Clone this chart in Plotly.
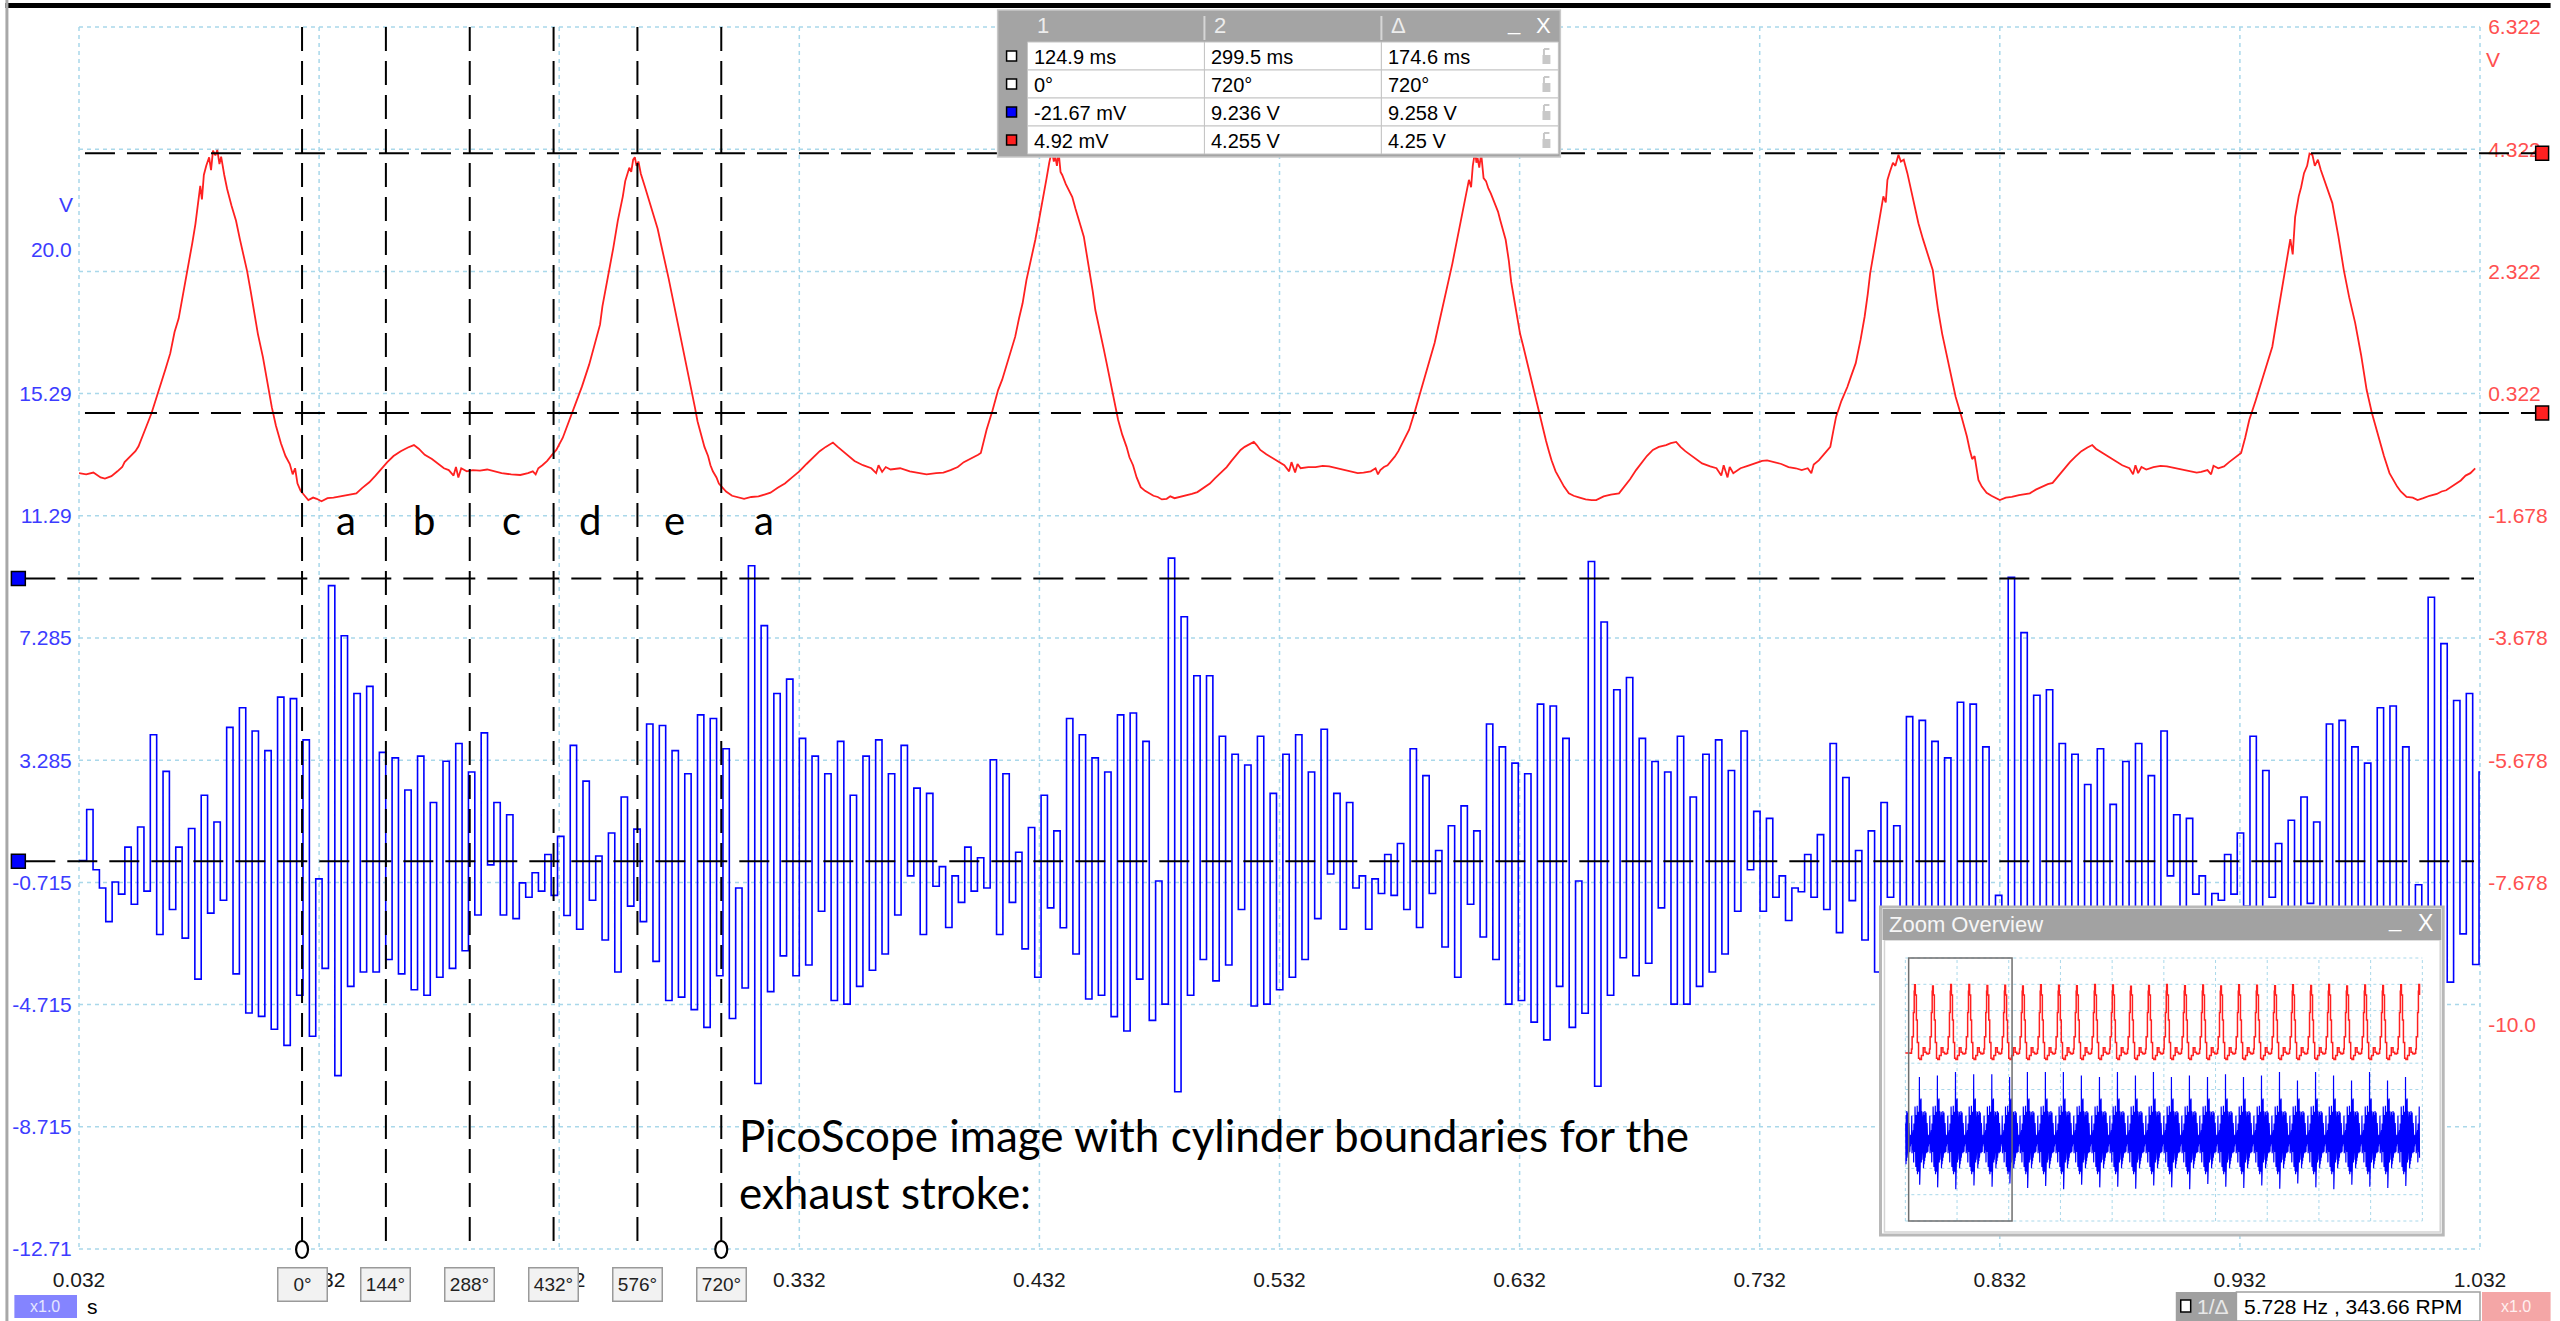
import plotly.graph_objects as go

# ============================ DATA ============================
X_RANGE = [0.032, 1.032]
X_TICK_VALS = [0.032, 0.132, 0.232, 0.332, 0.432, 0.532, 0.632, 0.732, 0.832, 0.932, 1.032]
X_TICK_TEXT = ["0.032", "0.132", "0.232", "0.332", "0.432", "0.532", "0.632", "0.732", "0.832", "0.932", "1.032"]

BLUE_RANGE = [-12.715, 27.285]
BLUE_TICK_VALS = [20.0, 15.285, 11.285, 7.285, 3.285, -0.715, -4.715, -8.715, -12.715]
BLUE_TICK_TEXT = ["20.0", "15.29", "11.29", "7.285", "3.285", "-0.715", "-4.715", "-8.715", "-12.71"]
BLUE_GRID_VALS = [27.285, 23.285, 19.285, 15.285, 11.285, 7.285, 3.285, -0.715, -4.715, -8.715, -12.715]

RED_RANGE = [-13.678, 6.322]
RED_TICK_VALS = [6.322, 4.322, 2.322, 0.322, -1.678, -3.678, -5.678, -7.678, -10.0]
RED_TICK_TEXT = ["6.322", "4.322", "2.322", "0.322", "-1.678", "-3.678", "-5.678", "-7.678", "-10.0"]

# red channel (time s, volts)
RED_SAMPLES = [
 (0.0320,-0.98),(0.0350,-1.00),(0.0380,-0.97),(0.0410,-1.05),(0.0428,-1.07),(0.0455,-1.03),(0.0480,-0.95),
 (0.0500,-0.88),(0.0510,-0.80),(0.0525,-0.74),(0.0540,-0.68),(0.0555,-0.62),(0.0568,-0.54),(0.0585,-0.38),
 (0.0600,-0.22),(0.0622,0.00),(0.0640,0.22),(0.0660,0.45),(0.0680,0.72),(0.0700,0.98),(0.0718,1.33),
 (0.0735,1.55),(0.0755,1.97),(0.0770,2.30),(0.0782,2.55),(0.0792,2.79),(0.0805,3.10),(0.0815,3.45),
 (0.0825,3.72),(0.0832,3.50),(0.0840,3.90),(0.0850,4.05),(0.0862,4.19),(0.0870,3.98),(0.0878,4.30),
 (0.0888,4.22),(0.0896,4.31),(0.0905,4.08),(0.0912,4.20),(0.0925,3.90),(0.0937,3.67),(0.0955,3.40),
 (0.0974,3.15),(0.0990,2.85),(0.1005,2.60),(0.1020,2.33),(0.1035,2.00),(0.1049,1.67),(0.1065,1.30),
 (0.1086,0.92),(0.1105,0.50),(0.1123,0.10),(0.1140,-0.20),(0.1161,-0.49),(0.1180,-0.70),(0.1198,-0.83),
 (0.1210,-1.00),(0.1220,-0.90),(0.1230,-1.15),(0.1243,-1.27),(0.1260,-1.35),(0.1275,-1.42),(0.1295,-1.38),
 (0.1310,-1.40),(0.1330,-1.44),(0.1355,-1.39),(0.1380,-1.38),(0.1410,-1.36),(0.1440,-1.33),(0.1475,-1.31),
 (0.1500,-1.22),(0.1529,-1.13),(0.1555,-1.02),(0.1580,-0.90),(0.1604,-0.80),(0.1630,-0.70),(0.1660,-0.62),
 (0.1690,-0.56),(0.1715,-0.52),(0.1735,-0.58),(0.1760,-0.68),(0.1790,-0.75),(0.1815,-0.83),(0.1840,-0.90),
 (0.1860,-0.93),(0.1880,-1.02),(0.1890,-0.88),(0.1900,-1.05),(0.1912,-0.90),(0.1935,-0.95),(0.1960,-0.93),
 (0.1990,-0.94),(0.2020,-0.92),(0.2047,-0.95),(0.2080,-0.98),(0.2120,-1.00),(0.2158,-1.01),(0.2190,-0.98),
 (0.2210,-0.95),(0.2222,-1.00),(0.2233,-0.90),(0.2250,-0.85),(0.2270,-0.78),(0.2290,-0.68),(0.2308,-0.60),
 (0.2335,-0.40),(0.2361,-0.13),(0.2390,0.15),(0.2415,0.44),(0.2445,0.80),(0.2473,1.21),(0.2490,1.45),
 (0.2500,1.75),(0.2515,2.05),(0.2527,2.33),(0.2545,2.70),(0.2564,3.15),(0.2575,3.35),(0.2585,3.55),
 (0.2595,3.80),(0.2602,3.90),(0.2612,4.02),(0.2620,3.95),(0.2628,4.15),(0.2635,4.19),(0.2642,4.05),
 (0.2650,4.12),(0.2660,3.92),(0.2676,3.72),(0.2700,3.40),(0.2715,3.20),(0.2730,3.02),(0.2745,2.75),
 (0.2760,2.50),(0.2775,2.22),(0.2788,1.97),(0.2805,1.65),(0.2815,1.45),(0.2830,1.15),(0.2842,0.92),
 (0.2856,0.65),(0.2870,0.40),(0.2885,0.10),(0.2896,-0.13),(0.2910,-0.33),(0.2925,-0.55),(0.2940,-0.70),
 (0.2950,-0.85),(0.2960,-0.95),(0.2975,-1.05),(0.2985,-1.15),(0.2995,-1.20),(0.3015,-1.28),(0.3040,-1.35),
 (0.3065,-1.38),(0.3090,-1.40),(0.3120,-1.37),(0.3150,-1.36),(0.3175,-1.33),(0.3200,-1.30),(0.3230,-1.22),
 (0.3260,-1.15),(0.3290,-1.05),(0.3320,-0.95),(0.3350,-0.83),(0.3380,-0.72),(0.3405,-0.62),(0.3430,-0.55),
 (0.3450,-0.50),(0.3460,-0.48),(0.3480,-0.55),(0.3500,-0.62),(0.3525,-0.70),(0.3550,-0.78),(0.3585,-0.85),
 (0.3620,-0.90),(0.3640,-0.98),(0.3650,-0.85),(0.3665,-0.96),(0.3680,-0.88),(0.3700,-0.92),(0.3740,-0.90),
 (0.3780,-0.95),(0.3815,-0.97),(0.3850,-1.00),(0.3890,-0.98),(0.3920,-0.97),(0.3950,-0.93),(0.3980,-0.88),
 (0.4005,-0.80),(0.4030,-0.75),(0.4050,-0.72),(0.4065,-0.68),(0.4076,-0.65),(0.4088,-0.45),(0.4100,-0.27),
 (0.4125,0.05),(0.4148,0.38),(0.4165,0.55),(0.4180,0.75),(0.4200,1.00),(0.4219,1.25),(0.4235,1.55),
 (0.4250,1.80),(0.4266,2.18),(0.4285,2.50),(0.4303,2.84),(0.4320,3.20),(0.4337,3.54),(0.4345,3.70),
 (0.4350,3.85),(0.4361,4.10),(0.4372,4.30),(0.4380,4.12),(0.4386,4.20),(0.4393,4.05),(0.4400,4.28),
 (0.4408,3.95),(0.4415,3.90),(0.4430,3.75),(0.4445,3.62),(0.4457,3.54),(0.4470,3.35),(0.4480,3.20),
 (0.4493,3.05),(0.4505,2.89),(0.4518,2.60),(0.4530,2.30),(0.4542,2.00),(0.4553,1.69),(0.4565,1.45),
 (0.4575,1.25),(0.4588,1.05),(0.4600,0.82),(0.4612,0.58),(0.4625,0.35),(0.4637,0.12),(0.4648,-0.11),
 (0.4665,-0.35),(0.4683,-0.55),(0.4695,-0.72),(0.4710,-0.85),(0.4725,-1.05),(0.4742,-1.21),(0.4760,-1.27),
 (0.4780,-1.32),(0.4795,-1.35),(0.4813,-1.37),(0.4830,-1.41),(0.4850,-1.40),(0.4865,-1.36),(0.4883,-1.39),
 (0.4905,-1.37),(0.4930,-1.35),(0.4955,-1.32),(0.4978,-1.29),(0.5005,-1.22),(0.5030,-1.15),(0.5052,-1.06),
 (0.5074,-0.98),(0.5100,-0.88),(0.5120,-0.78),(0.5140,-0.68),(0.5158,-0.60),(0.5175,-0.55),(0.5190,-0.52),
 (0.5213,-0.47),(0.5225,-0.52),(0.5240,-0.60),(0.5265,-0.67),(0.5289,-0.73),(0.5315,-0.80),(0.5340,-0.85),
 (0.5360,-0.95),(0.5370,-0.80),(0.5385,-0.97),(0.5395,-0.83),(0.5408,-0.90),(0.5440,-0.88),(0.5470,-0.88),
 (0.5500,-0.86),(0.5527,-0.87),(0.5560,-0.90),(0.5590,-0.93),(0.5620,-0.96),(0.5646,-0.98),(0.5670,-0.97),
 (0.5700,-0.95),(0.5720,-0.90),(0.5730,-1.00),(0.5740,-0.93),(0.5755,-0.88),(0.5770,-0.85),(0.5785,-0.78),
 (0.5800,-0.71),(0.5815,-0.62),(0.5830,-0.50),(0.5845,-0.38),(0.5860,-0.27),(0.5885,0.05),(0.5906,0.33),
 (0.5920,0.52),(0.5935,0.72),(0.5950,0.92),(0.5966,1.15),(0.5980,1.40),(0.5995,1.65),(0.6010,1.90),
 (0.6026,2.18),(0.6040,2.45),(0.6050,2.65),(0.6062,2.88),(0.6074,3.11),(0.6085,3.30),(0.6090,3.45),
 (0.6100,3.62),(0.6109,3.82),(0.6118,3.70),(0.6125,4.05),(0.6135,4.30),(0.6140,4.10),(0.6145,4.18),
 (0.6152,4.02),(0.6160,4.25),(0.6170,3.85),(0.6180,3.80),(0.6190,3.68),(0.6200,3.60),(0.6217,3.44),
 (0.6230,3.30),(0.6240,3.15),(0.6250,3.00),(0.6262,2.84),(0.6275,2.50),(0.6285,2.15),(0.6298,1.85),
 (0.6311,1.52),(0.6322,1.30),(0.6335,1.10),(0.6347,0.90),(0.6358,0.71),(0.6370,0.50),(0.6383,0.30),
 (0.6395,0.10),(0.6407,-0.11),(0.6418,-0.30),(0.6430,-0.45),(0.6442,-0.62),(0.6453,-0.77),(0.6470,-0.95),
 (0.6490,-1.10),(0.6505,-1.20),(0.6525,-1.31),(0.6545,-1.35),(0.6570,-1.38),(0.6595,-1.41),(0.6620,-1.42),
 (0.6639,-1.42),(0.6670,-1.36),(0.6700,-1.33),(0.6734,-1.31),(0.6760,-1.18),(0.6780,-1.08),(0.6805,-0.93),
 (0.6825,-0.82),(0.6850,-0.70),(0.6875,-0.60),(0.6900,-0.55),(0.6930,-0.52),(0.6950,-0.49),(0.6972,-0.47),
 (0.6990,-0.55),(0.7010,-0.62),(0.7031,-0.68),(0.7055,-0.76),(0.7080,-0.82),(0.7114,-0.87),(0.7140,-0.90),
 (0.7160,-1.02),(0.7170,-0.85),(0.7186,-1.05),(0.7195,-0.88),(0.7210,-0.98),(0.7240,-0.90),(0.7270,-0.86),
 (0.7300,-0.82),(0.7330,-0.78),(0.7351,-0.77),(0.7380,-0.80),(0.7410,-0.83),(0.7440,-0.88),(0.7470,-0.90),
 (0.7495,-0.93),(0.7520,-0.90),(0.7535,-0.98),(0.7545,-0.84),(0.7566,-0.77),(0.7590,-0.66),(0.7614,-0.55),
 (0.7626,-0.30),(0.7638,-0.06),(0.7660,0.20),(0.7685,0.43),(0.7700,0.60),(0.7720,0.82),(0.7740,1.20),
 (0.7757,1.58),(0.7770,1.95),(0.7780,2.29),(0.7798,2.70),(0.7815,3.11),(0.7825,3.30),(0.7835,3.55),
 (0.7845,3.45),(0.7852,3.82),(0.7862,3.95),(0.7875,4.10),(0.7885,4.05),(0.7898,4.23),(0.7908,4.12),
 (0.7920,4.15),(0.7935,3.93),(0.7950,3.65),(0.7965,3.40),(0.7981,3.11),(0.8000,2.85),(0.8020,2.60),
 (0.8041,2.34),(0.8052,2.00),(0.8063,1.69),(0.8080,1.30),(0.8101,0.93),(0.8118,0.60),(0.8136,0.27),
 (0.8160,-0.05),(0.8183,-0.38),(0.8195,-0.60),(0.8205,-0.75),(0.8215,-0.70),(0.8231,-1.09),(0.8245,-1.20),
 (0.8265,-1.30),(0.8285,-1.35),(0.8302,-1.39),(0.8320,-1.42),(0.8345,-1.38),(0.8370,-1.37),(0.8400,-1.34),
 (0.8420,-1.33),(0.8445,-1.31),(0.8470,-1.25),(0.8500,-1.20),(0.8520,-1.16),(0.8540,-1.14),(0.8565,-1.02),
 (0.8590,-0.90),(0.8612,-0.80),(0.8635,-0.71),(0.8660,-0.62),(0.8685,-0.56),(0.8705,-0.52),(0.8720,-0.58),
 (0.8740,-0.63),(0.8760,-0.68),(0.8778,-0.73),(0.8800,-0.78),(0.8830,-0.85),(0.8860,-0.90),(0.8875,-1.00),
 (0.8885,-0.85),(0.8896,-0.98),(0.8910,-0.88),(0.8930,-0.92),(0.8960,-0.88),(0.8990,-0.86),(0.9016,-0.87),
 (0.9050,-0.90),(0.9080,-0.92),(0.9110,-0.95),(0.9140,-0.97),(0.9159,-0.96),(0.9185,-0.93),(0.9200,-1.00),
 (0.9210,-0.86),(0.9230,-0.90),(0.9254,-0.87),(0.9275,-0.80),(0.9300,-0.72),(0.9325,-0.65),(0.9342,-0.40),
 (0.9359,-0.11),(0.9385,0.20),(0.9408,0.49),(0.9430,0.78),(0.9455,1.09),(0.9468,1.40),(0.9480,1.69),
 (0.9498,2.10),(0.9515,2.56),(0.9530,2.85),(0.9540,2.60),(0.9550,3.21),(0.9565,3.55),(0.9575,3.70),
 (0.9587,3.93),(0.9600,4.05),(0.9610,4.25),(0.9622,4.23),(0.9632,4.05),(0.9645,4.15),(0.9657,3.98),
 (0.9680,3.72),(0.9705,3.44),(0.9730,2.90),(0.9753,2.34),(0.9775,1.90),(0.9800,1.48),(0.9825,0.95),
 (0.9848,0.38),(0.9870,0.00),(0.9896,-0.38),(0.9920,-0.70),(0.9943,-0.98),(0.9960,-1.10),(0.9975,-1.20),
 (0.9990,-1.28),(1.0014,-1.37),(1.0040,-1.38),(1.0060,-1.42),(1.0084,-1.39),(1.0110,-1.35),(1.0140,-1.32),
 (1.0160,-1.28),(1.0179,-1.26),(1.0210,-1.18),(1.0240,-1.10),(1.0260,-1.02),(1.0280,-0.98),(1.0300,-0.90),
]

# blue channel: sampled oscillation, one peak + one trough per period
BLUE_START_T, BLUE_START_V = 0.032, 0.0
BLUE_FIRST_PEAK_T = 0.0352
BLUE_PERIOD = 0.0053
BLUE_PEAK_V = [
 1.67, -0.9, -0.7, 0.44, 1.1, 4.12, 2.92, 0.44, 1.05, 2.14,
 1.26, 4.36, 5.0, 4.24, 3.6, 5.35, 5.3, 3.95, -0.6,
 9.0, 7.36, 5.47, 5.7, 3.54, 3.36, 2.31, 3.42, 1.9, 3.25,
 3.83, 2.9, 4.18, 1.9, 1.5, -0.73, -0.4, 0.2, 0.79, 3.77,
 2.6, 0.15, 0.9, 2.08, 1.03, 4.47, 4.42, 3.6, 2.84, 4.77,
 4.65, 3.66, -0.9, 9.65, 7.69, 5.47, 5.94, 4.0, 3.42, 2.84,
 3.9, 2.14, 3.42, 3.95, 2.84, 3.77, 2.37, 2.2, -0.2, -0.5,
 0.44, 0.09, 3.3, 2.84, 0.27, 1.08, 2.14, 0.97, 4.65, 4.12,
 3.36, 2.9, 4.77, 4.83, 3.9, -0.67, 9.9, 7.98, 6.05, 6.05,
 4.07, 3.48, 3.13, 4.07, 2.2, 3.48, 4.12, 2.9, 4.3, 2.2,
 1.9, -0.5, -0.6, 0.2, 0.56, 3.66, 2.78, 0.33, 1.14, 1.79,
 0.97, 4.47, 3.72, 3.19, 2.84, 5.12, 5.06, 4.0, -0.67, 9.79,
 7.81, 5.59, 5.99, 4.0, 3.24, 2.9, 4.07, 2.08, 3.48, 3.95,
 2.95, 4.24, 1.61, 1.38, -0.5, -0.9, 0.2, 0.85, 3.83, 2.72,
 0.33, 0.97, 1.9, 1.14, 4.71, 4.59, 3.9, 3.36, 5.18, 5.12,
 3.72, -1.14, 9.27, 7.46, 5.41, 5.59, 3.83, 3.48, 2.49, 3.66,
 1.84, 3.24, 3.83, 2.78, 4.24, 1.5, 1.38, -0.5, -1.08, 0.2,
 0.9, 4.07, 2.95, 0.56, 1.32, 2.08, 1.26, 4.47, 4.59, 3.72,
 3.19, 5.0, 5.06, 3.72, -0.79, 8.62, 7.1, 5.24, 5.47, 2.9,
]
BLUE_TROUGH_V = [
 -0.3, -2.0, -1.1, -1.43, -1.0, -2.42, -1.6, -2.54, -3.88, -1.72,
 -1.3, -3.71, -4.99, -5.1, -5.52, -6.05, -4.41, -5.75, -3.53,
 -7.04, -4.12, -3.65, -3.65, -3.24, -3.71, -4.23, -4.41, -3.82, -3.53,
 -2.95, -1.78, -0.14, -1.78, -1.9, -1.2, -1.0, -1.14, -1.8, -2.25,
 -1.3, -2.6, -3.65, -1.49, -2.0, -3.3, -4.58, -4.47, -4.88, -5.46,
 -3.77, -5.17, -4.17, -7.3, -4.29, -3.12, -3.77, -3.42, -1.66, -4.58,
 -4.7, -4.12, -3.59, -3.06, -1.78, -0.5, -2.42, -0.84, -2.19, -1.37,
 -1.0, -0.9, -2.42, -1.37, -2.89, -3.82, -1.55, -2.2, -3.06, -4.53,
 -4.41, -5.11, -5.58, -3.88, -5.23, -4.7, -7.57, -4.41, -3.24, -3.94,
 -3.42, -1.6, -4.76, -4.7, -4.23, -3.82, -3.24, -1.9, -0.44, -2.25,
 -0.9, -2.25, -1.08, -1.14, -1.6, -2.19, -1.08, -2.83, -3.82, -1.43,
 -2.5, -3.24, -4.7, -4.58, -5.29, -5.87, -4.12, -5.46, -5.0, -7.39,
 -4.41, -3.18, -3.77, -3.36, -1.55, -4.7, -4.7, -4.12, -3.65, -3.06,
 -1.66, -0.3, -1.66, -1.2, -1.96, -1.02, -1.2, -1.6, -2.36, -1.31,
 -2.6, -3.65, -1.2, -2.5, -3.06, -4.53, -4.47, -4.94, -5.4, -3.77,
 -4.82, -4.58, -7.5, -4.2, -3.3, -3.8, -3.5, -1.7, -4.6, -4.6,
 -4.1, -3.7, -3.1, -1.8, -0.5, -2.3, -1.1, -2.0, -1.3, -1.1,
 -1.5, -2.3, -1.2, -2.8, -3.7, -1.4, -2.4, -3.2, -4.6, -4.5,
 -5.0, -5.5, -3.9, -5.1, -4.7, -7.0, -3.98, -2.4, -3.4, -1.0,
]

# cursors
CURSOR_T = [0.1249, 0.2995]
CURSOR_DEG = [0, 144, 288, 432, 576, 720]
BLUE_CURSOR_V = [9.236, -0.02167]
RED_CURSOR_V = [4.255, 0.00492]
SEGMENT_LABELS = ["a", "b", "c", "d", "e", "a"]
SEGMENT_LABEL_T = [0.1434, 0.1757, 0.2121, 0.2448, 0.2800, 0.3173]

TABLE_HEAD = ["1", "2", "\u0394"]
TABLE_ROWS = [["124.9 ms", "299.5 ms", "174.6 ms"],
              ["0\u00b0", "720\u00b0", "720\u00b0"],
              ["-21.67 mV", "9.236 V", "9.258 V"],
              ["4.92 mV", "4.255 V", "4.25 V"]]
TABLE_ICON_COLORS = ["#ffffff", "#ffffff", "#0000ff", "#ff2020"]
FREQ_TEXT = "5.728 Hz , 343.66 RPM"
NOTE_TEXT = "PicoScope image with cylinder boundaries for the<br>exhaust stroke:"

# zoom overview (5 s of capture)
OV_T_RANGE = [0.0, 5.0]
OV_T_END = 4.975
OV_RED_START = (0.0, -0.90)
OV_RED_PEAK_T = [0.0896, 0.2635, 0.4386, 0.6145, 0.7898, 0.9620, 1.134, 1.308, 1.482, 1.656,
                 1.831, 2.005, 2.179, 2.353, 2.527, 2.701, 2.876, 3.050, 3.224, 3.398,
                 3.572, 3.746, 3.921, 4.095, 4.269, 4.443, 4.617, 4.791, 4.966]
OV_RED_PEAK_V = [4.28, 4.19, 4.30, 4.30, 4.23, 4.25, 4.20, 4.28, 4.25, 4.22,
                 4.30, 4.26, 4.18, 4.24, 4.30, 4.22, 4.27, 4.20, 4.29, 4.25,
                 4.21, 4.28, 4.24, 4.30, 4.19, 4.26, 4.23, 4.28, 4.31]
OV_RED_SHAPE_DT = [-0.0405, -0.030, -0.024, -0.012, -0.004, 0.0, 0.007, 0.017, 0.026, 0.038,
                   0.050, 0.066, 0.083, 0.100, 0.115, 0.130]
OV_RED_SHAPE_V = [-0.93, -0.60, 0.33, 2.18, 3.80, None, 3.50, 1.60, -0.10, -1.31,
                  -1.39, -1.10, -0.50, -0.85, -0.95, -0.98]
OV_BLUE_LAG = 0.0463
OV_BLUE_SPIKE_UP = [9.17, 9.4, 9.93, 9.6, 9.6, 9.17, 9.93, 9.93, 9.93, 9.4,
                    9.17, 9.93, 9.4, 9.93, 9.17, 9.4, 9.17, 9.6, 9.17, 9.4,
                    9.93, 8.67, 9.93, 9.4, 8.67, 9.93, 8.67, 9.17, 9.4]
OV_BLUE_SPIKE_DN = [-7.2, -7.6, -7.9, -7.3, -7.5, -7.0, -7.7, -7.4, -7.9, -7.2,
                    -7.6, -7.5, -7.8, -7.3, -7.6, -7.9, -7.1, -7.5, -7.7, -7.3,
                    -7.8, -7.0, -7.6, -7.9, -7.2, -7.5, -7.7, -7.4, -7.6]
OV_BLUE_ENV_UP = [7.7, 5.5, 5.9, 4.0, 3.4, 2.8, 3.9, 2.1, 3.4, 4.0, 2.8, 3.8, 2.4, 2.2, -0.2, -0.5,
                  0.4, 0.1, 3.3, 2.8, 0.3, 1.1, 2.1, 1.0, 4.7, 4.1, 3.4, 2.9, 4.8, 4.8, 3.9, -0.7]
OV_BLUE_ENV_LO = [-4.3, -3.1, -3.8, -3.4, -1.7, -4.6, -4.7, -4.1, -3.6, -3.1, -1.8, -0.5, -2.4, -0.8, -2.2, -1.4,
                  -1.0, -0.9, -2.4, -1.4, -2.9, -3.8, -1.6, -2.2, -3.1, -4.5, -4.4, -5.1, -5.6, -3.9, -5.2, -4.7]

# ============================ STYLE / LAYOUT GEOMETRY ============================
W, H = 2560, 1321
ML, MR, MT, MB = 74, 71, 27, 72
PW, PH = W - ML - MR, H - MT - MB
UI_FONT = "Liberation Sans, Arial, sans-serif"
NOTE_FONT = "Lato, Open Sans, sans-serif"
GRID_COLOR = "#a9d8ea"
BLUE = "#0000ff"
RED = "#ff2020"
BLUE_TXT = "#3c3cff"
RED_TXT = "#ff5050"

def PX(px):
    return (px - ML) / PW

def PY(py):
    return (H - MB - py) / PH

def t2px(t):
    return ML + (t - X_RANGE[0]) / (X_RANGE[1] - X_RANGE[0]) * PW

def blue2py(v):
    return MT + (BLUE_RANGE[1] - v) / (BLUE_RANGE[1] - BLUE_RANGE[0]) * PH

def red2py(v):
    return MT + (RED_RANGE[1] - v) / (RED_RANGE[1] - RED_RANGE[0]) * PH

shapes = []
annotations = []

def rect_px(x0, y0, x1, y1, fill=None, lc=None, lw=0, layer="above"):
    shapes.append(dict(type="rect", xref="paper", yref="paper", x0=PX(x0), x1=PX(x1),
                       y0=PY(y1), y1=PY(y0), fillcolor=fill or "rgba(0,0,0,0)",
                       line=dict(color=lc or "rgba(0,0,0,0)", width=lw), layer=layer))

def line_px(x0, y0, x1, y1, color, width, dash="solid", layer="above"):
    shapes.append(dict(type="line", xref="paper", yref="paper", x0=PX(x0), y0=PY(y0),
                       x1=PX(x1), y1=PY(y1), line=dict(color=color, width=width, dash=dash),
                       layer=layer))

def text_px(text, x, y, size, color="#000000", xanchor="center", yanchor="middle",
            family=UI_FONT, **kw):
    annotations.append(dict(text=text, x=PX(x), y=PY(y), xref="paper", yref="paper",
                            showarrow=False, xanchor=xanchor, yanchor=yanchor,
                            font=dict(family=family, size=size, color=color), **kw))

# ============================ TRACES ============================
fig = go.Figure()

blue_x, blue_y = [BLUE_START_T], [BLUE_START_V]
for i, (pk, tr) in enumerate(zip(BLUE_PEAK_V, BLUE_TROUGH_V)):
    t = BLUE_FIRST_PEAK_T + i * BLUE_PERIOD
    blue_x += [t, t + BLUE_PERIOD / 2]
    blue_y += [pk, tr]
fig.add_trace(go.Scatter(x=blue_x, y=blue_y, mode="lines", xaxis="x", yaxis="y",
                         line=dict(color=BLUE, width=1.6, shape="hv"), hoverinfo="skip"))

red_x = [p[0] for p in RED_SAMPLES]
red_y = [p[1] for p in RED_SAMPLES]
fig.add_trace(go.Scatter(x=red_x, y=red_y, mode="lines", xaxis="x", yaxis="y2",
                         line=dict(color=RED, width=1.8), hoverinfo="skip"))

# overview traces
ov_rx, ov_ry = [OV_RED_START[0]], [OV_RED_START[1]]
for tp, vp in zip(OV_RED_PEAK_T, OV_RED_PEAK_V):
    for dt, v in zip(OV_RED_SHAPE_DT, OV_RED_SHAPE_V):
        t = tp + dt
        if 0 <= t <= OV_T_END and t > ov_rx[-1]:
            ov_rx.append(t)
            ov_ry.append(vp if v is None else v)
ov_bx, ov_by = [], []
first_spike = OV_RED_PEAK_T[0] + OV_BLUE_LAG
for m in range(1, 33):
    t = first_spike - (33 - m) * BLUE_PERIOD
    if t >= 0:
        ov_bx += [t, t + BLUE_PERIOD / 2]
        ov_by += [OV_BLUE_ENV_UP[m - 1], OV_BLUE_ENV_LO[m - 1]]
for tp, up, dn in zip(OV_RED_PEAK_T, OV_BLUE_SPIKE_UP, OV_BLUE_SPIKE_DN):
    ts = tp + OV_BLUE_LAG
    seq = [(ts, up, dn)] + [(ts + m * BLUE_PERIOD, OV_BLUE_ENV_UP[m - 1], OV_BLUE_ENV_LO[m - 1])
                            for m in range(1, 33)]
    for t, u, d in seq:
        if t <= OV_T_END:
            ov_bx += [t, t + BLUE_PERIOD / 2]
            ov_by += [u, d]
fig.add_trace(go.Scatter(x=ov_bx, y=ov_by, mode="lines", xaxis="x3", yaxis="y3",
                         line=dict(color=BLUE, width=1.2), hoverinfo="skip"))
fig.add_trace(go.Scatter(x=ov_rx, y=ov_ry, mode="lines", xaxis="x3", yaxis="y4",
                         line=dict(color=RED, width=1.5, shape="hv"), hoverinfo="skip"))

# ============================ MAIN GRID ============================
for t in X_TICK_VALS:
    line_px(t2px(t), MT, t2px(t), H - MB, GRID_COLOR, 1.5, "4px,4px", layer="below")
for v in BLUE_GRID_VALS:
    line_px(ML, blue2py(v), ML + PW, blue2py(v), GRID_COLOR, 1.5, "4px,4px", layer="below")

# ============================ CURSORS ============================
cursor_times = [CURSOR_T[0] + d / 720.0 * (CURSOR_T[1] - CURSOR_T[0]) for d in CURSOR_DEG]
for d, t in zip(CURSOR_DEG, cursor_times):
    end = 1241 if d in (CURSOR_DEG[0], CURSOR_DEG[-1]) else H - MB
    line_px(t2px(t), MT, t2px(t), end, "#000000", 2, "24px,10px")
for v in RED_CURSOR_V:
    y = red2py(v)
    line_px(80, y, 2545, y, "#000000", 2, "30px,12px")
    rect_px(2545, y - 7, 2558, y + 7, fill=RED, lc="#000000", lw=1.5)
for v in BLUE_CURSOR_V:
    y = blue2py(v)
    line_px(20, y, 2483, y, "#000000", 2, "30px,12px")
    rect_px(6, y - 7, 20, y + 7, fill=BLUE, lc="#000000", lw=1.5)
for t in (cursor_times[0], cursor_times[-1]):
    x = t2px(t)
    shapes.append(dict(type="circle", xref="paper", yref="paper", x0=PX(x - 6), x1=PX(x + 6),
                       y0=PY(1258), y1=PY(1241), fillcolor="#ffffff",
                       line=dict(color="#000000", width=2.2), layer="above"))

for d, t in zip(CURSOR_DEG, cursor_times):
    annotations.append(dict(text=f"{d}\u00b0", x=t, xref="x", y=PY(1284.5), yref="paper",
                            showarrow=False, xanchor="center", yanchor="middle",
                            width=46, height=30, bgcolor="#f2f2f2", bordercolor="#9a9a9a",
                            borderwidth=1.5, borderpad=1,
                            font=dict(family=UI_FONT, size=19, color="#222222")))

for lab, t in zip(SEGMENT_LABELS, SEGMENT_LABEL_T):
    annotations.append(dict(text=lab, x=t, xref="x", y=PY(520), yref="paper", showarrow=False,
                            xanchor="center", yanchor="middle",
                            font=dict(family=NOTE_FONT, size=40, color="#000000")))

text_px(NOTE_TEXT, 736, 1107, 44, xanchor="left", yanchor="top", family=NOTE_FONT, align="left")

# ============================ FRAME DECORATION ============================
rect_px(0, 3, W, 8, fill="#000000")
rect_px(0, 0, 3, H, fill="#a8a8a8")
text_px("V", 70, 205, 21, BLUE_TXT, xanchor="right")
text_px("V", 2493, 60, 21, RED_TXT, xanchor="left")

# bottom-left scale badge
rect_px(9, 1295, 72, 1318, fill="#8484ff")
text_px("x1.0", 40, 1306.5, 16, "#e6e6ff")
text_px("s", 80, 1306, 21, "#000000", xanchor="left")

# bottom-right frequency readout
rect_px(2183, 1292, 2244, H, fill="#a0a0a0")
rect_px(2188, 1300, 2198, 1312, fill="#ffffff", lc="#000000", lw=1.5)
text_px("1/\u0394", 2202, 1306, 21, "#e8e8e8", xanchor="left")
rect_px(2244, 1292, 2489, H, fill="#ffffff", lc="#a0a0a0", lw=1.5)
text_px(FREQ_TEXT, 2250, 1306, 21, "#000000", xanchor="left")
rect_px(2491, 1292, W, H, fill="#f4a6a6")
text_px("x1.0", 2525, 1306, 16, "#fff0f0")

# ============================ CURSOR TABLE ============================
TBL_X0, TBL_X1, TBL_Y0, TBL_Y1 = 998, 1564, 10, 157
COL_X = [1028, 1206, 1384, 1562]
ROW_Y = [42, 70, 98, 126, 154]
rect_px(TBL_X0, TBL_Y0, TBL_X1, TBL_Y1, fill="#a4a4a4", lc="#c8c8c8", lw=1.5)
for c, head in enumerate(TABLE_HEAD):
    text_px(head, COL_X[c] + 8, 26, 22, "#ececec", xanchor="left")
for xs in COL_X[1:3]:
    line_px(xs, 16, xs, 40, "#d6d6d6", 2)
text_px("_", 1517, 22, 22, "#ffffff")
text_px("X", 1547, 26, 22, "#ffffff")
for r, row in enumerate(TABLE_ROWS):
    y0, y1 = ROW_Y[r], ROW_Y[r + 1]
    yc = (y0 + y1) / 2
    for c, cell in enumerate(row):
        rect_px(COL_X[c], y0, COL_X[c + 1], y1, fill="#ffffff", lc="#c4c4c4", lw=1)
        text_px(cell, COL_X[c] + 5, yc + 1, 20, "#000000", xanchor="left")
    rect_px(1007, yc - 5, 1017, yc + 5, fill=TABLE_ICON_COLORS[r], lc="#000000", lw=1.5)
    rect_px(1546, yc - 1, 1554, yc + 8, fill="#c8c8c8")
    line_px(1547.5, yc - 1, 1547.5, yc - 7, "#c8c8c8", 2)
    line_px(1547.5, yc - 7, 1553, yc - 7, "#c8c8c8", 2)

# ============================ ZOOM OVERVIEW WINDOW ============================
WIN_X0, WIN_X1, WIN_Y0, WIN_Y1 = 1886, 2452, 907, 1235
IN_X0, IN_X1, IN_Y0, IN_Y1 = 1911, 2431, 958, 1221
sx = (OV_T_RANGE[1] - OV_T_RANGE[0]) / (IN_X1 - IN_X0)
x3_range = [OV_T_RANGE[0] - (IN_X0 - WIN_X0) * sx, OV_T_RANGE[1] + (WIN_X1 - IN_X1) * sx]
sb = (BLUE_RANGE[1] - BLUE_RANGE[0]) / (IN_Y1 - IN_Y0)
y3_range = [BLUE_RANGE[0] - (WIN_Y1 - IN_Y1) * sb, BLUE_RANGE[1] + (IN_Y0 - WIN_Y0) * sb]
sr = (RED_RANGE[1] - RED_RANGE[0]) / (IN_Y1 - IN_Y0)
y4_range = [RED_RANGE[0] - (WIN_Y1 - IN_Y1) * sr, RED_RANGE[1] + (IN_Y0 - WIN_Y0) * sr]

for k in range(11):
    t = OV_T_RANGE[0] + k * (OV_T_RANGE[1] - OV_T_RANGE[0]) / 10
    shapes.append(dict(type="line", xref="x3", yref="y3", x0=t, x1=t, y0=BLUE_RANGE[0],
                       y1=BLUE_RANGE[1], line=dict(color=GRID_COLOR, width=1, dash="3px,3px"),
                       layer="below"))
for v in BLUE_GRID_VALS:
    shapes.append(dict(type="line", xref="x3", yref="y3", x0=OV_T_RANGE[0], x1=OV_T_RANGE[1],
                       y0=v, y1=v, line=dict(color=GRID_COLOR, width=1, dash="3px,3px"),
                       layer="below"))
shapes.append(dict(type="rect", xref="x3", yref="y3", x0=X_RANGE[0], x1=X_RANGE[1],
                   y0=BLUE_RANGE[0], y1=BLUE_RANGE[1], line=dict(color="#6e6e6e", width=1.5),
                   fillcolor="rgba(0,0,0,0)", layer="above"))
rect_px(WIN_X0, WIN_Y0, WIN_X1, WIN_Y1, lc="#b8b8b8", lw=3)
rect_px(WIN_X0 + 4, 940, WIN_X1 - 3, WIN_Y1 - 3, lc="#d4d4d4", lw=1.5)
rect_px(WIN_X0 + 2, WIN_Y0 + 2, WIN_X1 - 2, 940, fill="#a2a2a2")
text_px("Zoom Overview", 1893, 924, 22, "#f6f6f6", xanchor="left")
text_px("_", 2404, 919, 22, "#ffffff")
text_px("X", 2434, 923, 23, "#ffffff")

# ============================ LAYOUT ============================
fig.update_layout(
    width=W, height=H, autosize=False,
    margin=dict(l=ML, r=MR, t=MT, b=MB, pad=0),
    paper_bgcolor="#ffffff", plot_bgcolor="#ffffff",
    showlegend=False, hovermode=False,
    xaxis=dict(domain=[0, 1], range=X_RANGE, tickmode="array", tickvals=X_TICK_VALS,
               ticktext=X_TICK_TEXT, showgrid=False, zeroline=False, showline=False,
               ticks="outside", ticklen=12, tickcolor="rgba(0,0,0,0)",
               tickfont=dict(family=UI_FONT, size=21, color="#1a1a1a"), fixedrange=True),
    yaxis=dict(domain=[0, 1], range=BLUE_RANGE, tickmode="array", tickvals=BLUE_TICK_VALS,
               ticktext=BLUE_TICK_TEXT, showgrid=False, zeroline=False, showline=False,
               ticks="outside", ticklen=2, tickcolor="rgba(0,0,0,0)",
               tickfont=dict(family=UI_FONT, size=21, color=BLUE_TXT), fixedrange=True),
    yaxis2=dict(overlaying="y", side="right", range=RED_RANGE, tickmode="array",
                tickvals=RED_TICK_VALS, ticktext=RED_TICK_TEXT, showgrid=False,
                zeroline=False, showline=False, ticks="outside", ticklen=3,
                tickcolor="rgba(0,0,0,0)",
                tickfont=dict(family=UI_FONT, size=21, color=RED_TXT), fixedrange=True),
    xaxis3=dict(domain=[PX(WIN_X0), PX(WIN_X1)], range=x3_range, anchor="y3", visible=False,
                fixedrange=True),
    yaxis3=dict(domain=[PY(WIN_Y1), PY(WIN_Y0)], range=y3_range, anchor="x3", visible=False,
                fixedrange=True),
    yaxis4=dict(overlaying="y3", range=y4_range, anchor="x3", visible=False, fixedrange=True),
    shapes=shapes,
    annotations=annotations,
)

fig.write_html("out.html", include_plotlyjs=True, full_html=True,
               config={"displayModeBar": False, "staticPlot": True},
               post_script="document.body.style.margin='0';document.body.style.padding='0';")
